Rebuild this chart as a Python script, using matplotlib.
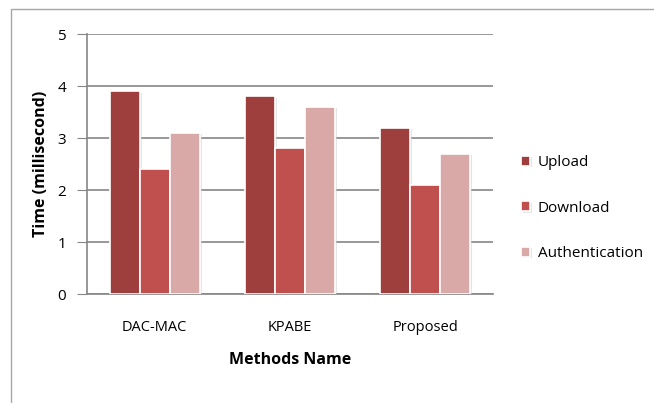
import matplotlib
matplotlib.use('Agg')
import matplotlib.pyplot as plt
import matplotlib.patheffects as pe
import numpy as np

# data
methods = ["DAC-MAC", "KPABE", "Proposed"]
upload = [3.9, 3.8, 3.2]
download = [2.4, 2.8, 2.1]
authentication = [3.1, 3.6, 2.7]

series = [("Upload", upload, "#9e3f3d"),
          ("Download", download, "#c0504d"),
          ("Authentication", authentication, "#d9a9a8")]

plt.rcParams['font.family'] = ['Open Sans', 'DejaVu Sans']

fig = plt.figure(figsize=(6.54, 4.03), dpi=100)
# outer chart-area border
fig.patches.append(plt.Rectangle((11 / 654, -0.01), 1.0, 1 - 9 / 403 + 0.01,
                                 transform=fig.transFigure, fill=False,
                                 edgecolor="#a6a6a6", linewidth=1))

ax = fig.add_axes([87 / 654, 1 - 294 / 403, (493 - 87) / 654, (294 - 34) / 403])

x = np.arange(len(methods))
w = 0.222
shadow = [pe.SimplePatchShadow(offset=(1.5, -1), shadow_rgbFace="#cccccc", alpha=0.5), pe.Normal()]
for i, (name, vals, col) in enumerate(series):
    bars = ax.bar(x + (i - 1) * w, vals, width=w, color=col, edgecolor="white",
                  linewidth=1.2, label=name, zorder=3)
    for b in bars:
        b.set_path_effects(shadow)

ax.set_xlim(-0.5, 2.5)
ax.set_ylim(0, 5)
ax.set_yticks(range(0, 6))
ax.set_xticks(x)
ax.set_xticklabels(methods, fontsize=10.5)
ax.tick_params(axis='y', labelsize=11, length=7, color="#868686", pad=8)
ax.tick_params(axis='x', length=0, pad=19)
ax.yaxis.grid(True, color="#868686", linewidth=1.2, zorder=0)
for s in ["top", "right"]:
    ax.spines[s].set_visible(False)
for s in ["left", "bottom"]:
    ax.spines[s].set_color("#868686")
    ax.spines[s].set_linewidth(1.2)

ax.set_ylabel("Time (millisecond)", fontsize=11.5, fontweight="bold", labelpad=6)
ax.set_xlabel("Methods Name", fontsize=11.5, fontweight="bold", labelpad=12)

ax.legend(loc="center left", bbox_to_anchor=(1.035, 0.33), frameon=False,
          fontsize=11, handlelength=0.6, handleheight=0.6, labelspacing=2.0,
          handletextpad=0.5)

fig.savefig("out.png", dpi=100)
